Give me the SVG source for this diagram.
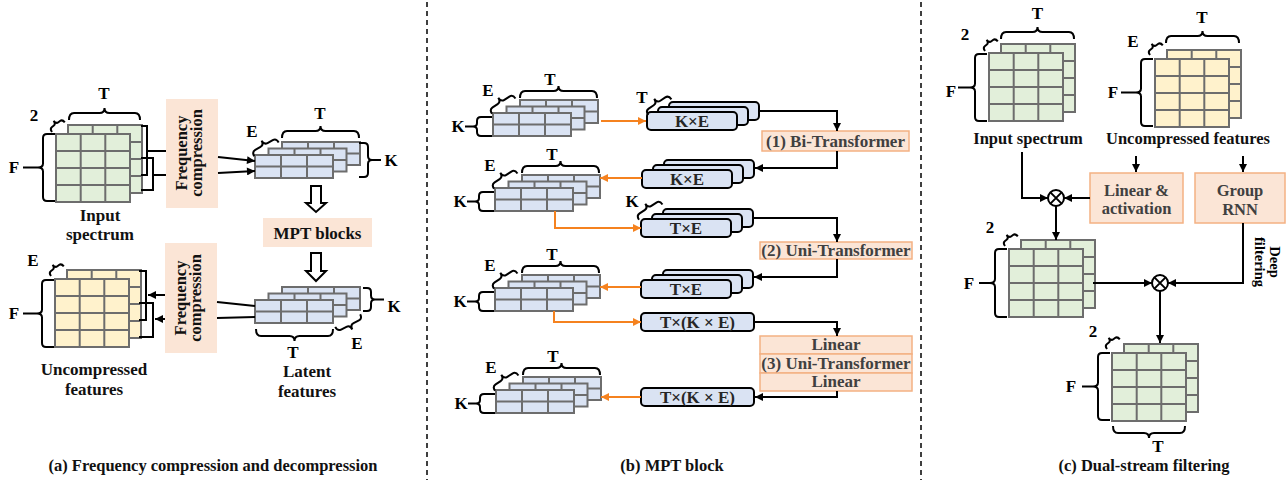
<svg xmlns="http://www.w3.org/2000/svg" xmlns:xlink="http://www.w3.org/1999/xlink" width="1288" height="480" viewBox="0 0 1288 480">
<style>
text{font-family:"Liberation Serif","Times New Roman",serif;font-weight:bold;}
.lbl{font-size:17px;fill:#000;text-anchor:middle}
.t16{font-size:17px;text-anchor:middle;fill:#111}
.t165{font-size:16.5px;text-anchor:middle;fill:#111}
.fc{font-size:16.5px;text-anchor:middle;fill:#111}
.cap{font-size:16.5px;text-anchor:middle;fill:#111}
.btx{font-size:17px;text-anchor:middle;fill:#404040}
.ctx{font-size:16.5px;text-anchor:middle;fill:#404040}
.blk{font-size:17px;text-anchor:middle;fill:#262626}
.gridc{stroke:#6d6d6d;stroke-width:2}
.br{fill:none;stroke:#000;stroke-width:2}
.ln{fill:none;stroke:#000;stroke-width:2}
.or{fill:none;stroke:#f5821f;stroke-width:2}
.peach{fill:#fbe5d6}
.peachS{fill:#fbe5d6;stroke:#f4b183;stroke-width:1.5}
.blkr{fill:#dae3f3;stroke:#000;stroke-width:2}
.dash{stroke:#000;stroke-width:1.5;stroke-dasharray:5,4}
</style>
<defs>
<marker id="ah" viewBox="0 0 10 10" refX="10" refY="5" markerWidth="9" markerHeight="8" markerUnits="userSpaceOnUse" orient="auto"><path d="M0,0L10,5L0,10z" fill="#000"/></marker>
<marker id="aho" viewBox="0 0 10 10" refX="10" refY="5" markerWidth="9" markerHeight="8" markerUnits="userSpaceOnUse" orient="auto"><path d="M0,0L10,5L0,10z" fill="#f5821f"/></marker>
<g id="g34" class="gridc"><rect width="74" height="68"/><path d="M24.7,0V68M49.3,0V68M0,17H74M0,34H74M0,51H74" fill="none"/></g>
<g id="G34"><use xlink:href="#g34" x="12" y="-9"/><use xlink:href="#g34"/></g>
<g id="g32" class="gridc"><rect width="78" height="23"/><path d="M26,0V23M52,0V23M0,11.5H78" fill="none"/></g>
<g id="G32"><use xlink:href="#g32" x="27" y="-13"/><use xlink:href="#g32" x="13.5" y="-6.5"/><use xlink:href="#g32"/></g>
<rect id="b90" width="90" height="18" rx="4" class="blkr"/>
<g id="S90"><use xlink:href="#b90" x="22" y="-10"/><use xlink:href="#b90" x="11" y="-5"/><use xlink:href="#b90"/></g>
<path id="sb28" class="br" d="M-14,5 Q-14,0 -10,0 H-4 Q0,0 0,-5 Q0,0 4,0 H10 Q14,0 14,5"/>
<path id="sb16" class="br" d="M-8,4 Q-8,0 -5,0 H-3 Q0,0 0,-4 Q0,0 3,0 H5 Q8,0 8,4"/>
<path id="tb77" class="br" d="M0,0 Q0,-7 5,-7 H33.5 Q38.5,-7 38.5,-12 Q38.5,-7 43.5,-7 H72 Q77,-7 77,0"/>
<path id="kb" class="br" d="M0,0 H-11 Q-15,0 -15,4 V6 Q-15,9.5 -19,9.5 Q-15,9.5 -15,13 V15 Q-15,19 -11,19 H0 M-19,9.5 H-27"/>
<g id="otimes"><circle r="8" fill="#fff" stroke="#000" stroke-width="2"/><path d="M-5.6,-5.6L5.6,5.6M-5.6,5.6L5.6,-5.6" stroke="#000" stroke-width="2"/></g>
</defs>

<rect width="1288" height="480" fill="#fff"/>
<line class="dash" x1="427" y1="2" x2="427" y2="480"/>
<line class="dash" x1="921" y1="2" x2="921" y2="480"/>

<!-- ===== Panel (a) ===== -->
<g id="a-input">
<use xlink:href="#G34" x="56" y="134" fill="#e2efda"/>
<path class="br" d="M69,120 Q69,113 74,113 H99.5 Q104.5,113 104.5,108 Q104.5,113 109.5,113 H135 Q140,113 140,120"/>
<text class="lbl" x="104" y="99">T</text>
<use xlink:href="#sb16" transform="translate(56,124) rotate(-37)"/>
<text class="lbl" x="34" y="121">2</text>
<path class="br" d="M55,134 H47 Q43,134 43,138 V163.5 Q43,167.5 38,167.5 Q43,167.5 43,171.5 V197 Q43,201 47,201 H55 M23,167.5 H38"/>
<text class="lbl" x="14" y="173">F</text>
<text class="t16" x="100" y="221">Input</text>
<text class="t16" x="100" y="240">spectrum</text>
</g>
<g id="a-fc1">
<rect class="peach" x="166" y="99" width="52" height="109"/>
<text class="fc" transform="translate(192,153) rotate(-90)"><tspan x="0" y="-5">Frequency</tspan><tspan x="0" y="10">compression</tspan></text>
</g>
<g id="a-latent1">
<use xlink:href="#G32" x="255" y="155" fill="#dae3f3"/>
<use xlink:href="#tb77" transform="translate(282,138)"/>
<text class="lbl" x="320" y="119">T</text>
<use xlink:href="#sb28" transform="translate(264,145) rotate(-29)"/>
<text class="lbl" x="252" y="137">E</text>
<path class="br" d="M359,143 H364 Q368,143 368,147 V156 Q368,160 372,160 Q368,160 368,164 V173 Q368,177 364,177 H359 M372,160 H381"/>
<text class="lbl" x="391" y="166">K</text>
</g>
<g id="a-mpt">
<rect class="peach" x="263" y="218" width="109" height="29"/>
<text class="t16" x="317.5" y="239" fill="#222">MPT blocks</text>
</g>
<g id="a-latent2">
<use xlink:href="#G32" x="255" y="300" fill="#dae3f3"/>
<path class="br" d="M363,288 H367 Q371,288 371,292 V295.5 Q371,299.5 375,299.5 Q371,299.5 371,303.5 V307 Q371,311 367,311 H363 M375,299.5 H384"/>
<text class="lbl" x="394" y="312">K</text>
<use xlink:href="#sb28" transform="translate(350,325) rotate(153)"/>
<text class="lbl" x="357" y="349">E</text>
<path class="br" d="M256,329 Q256,336 261,336 H289.5 Q294.5,336 294.5,341 Q294.5,336 299.5,336 H328 Q333,336 333,329"/>
<text class="lbl" x="293" y="358">T</text>
<text class="t16" x="307" y="377">Latent</text>
<text class="t16" x="307" y="397">features</text>
</g>
<g id="a-fc2">
<rect class="peach" x="165" y="243" width="52" height="110"/>
<text class="fc" transform="translate(191,298) rotate(-90)"><tspan x="0" y="-5">Frequency</tspan><tspan x="0" y="10">compression</tspan></text>
</g>
<g id="a-uncomp">
<use xlink:href="#G34" x="55" y="279" fill="#fff2cc"/>
<use xlink:href="#sb16" transform="translate(55,268) rotate(-37)"/>
<text class="lbl" x="33" y="266">E</text>
<path class="br" d="M54,280 H46 Q42,280 42,284 V309.5 Q42,313.5 37,313.5 Q42,313.5 42,317.5 V343 Q42,347 46,347 H54 M23,313.5 H37"/>
<text class="lbl" x="14" y="319">F</text>
<text class="t16" x="94" y="375">Uncompressed</text>
<text class="t16" x="94" y="395">features</text>
</g>
<g id="a-arrows">
<path class="ln" d="M311,186 H321 V203 H326 L316,212 L306,203 H311 Z" fill="#fff"/>
<path class="ln" d="M311,253 H321 V271 H326 L316,281 L306,271 H311 Z" fill="#fff"/>
</g>

<!-- ===== Panel (b) ===== -->
<g id="b-grid1">
<use xlink:href="#G32" x="493" y="113" fill="#dae3f3"/>
<use xlink:href="#tb77" transform="translate(520,98)"/>
<text class="lbl" x="550" y="85">T</text>
<use xlink:href="#sb28" transform="translate(501,102) rotate(-33)"/>
<text class="lbl" x="488" y="96">E</text>
<use xlink:href="#kb" transform="translate(492,117)"/>
<text class="lbl" x="458" y="132">K</text>
</g>
<g id="b-grid2">
<use xlink:href="#G32" x="495" y="188" fill="#dae3f3"/>
<use xlink:href="#tb77" transform="translate(522,173)"/>
<text class="lbl" x="552" y="160">T</text>
<use xlink:href="#sb28" transform="translate(503,177) rotate(-33)"/>
<text class="lbl" x="490" y="171">E</text>
<use xlink:href="#kb" transform="translate(494,192)"/>
<text class="lbl" x="460" y="207">K</text>
</g>
<g id="b-grid3">
<use xlink:href="#G32" x="495" y="288" fill="#dae3f3"/>
<use xlink:href="#tb77" transform="translate(522,273)"/>
<text class="lbl" x="552" y="260">T</text>
<use xlink:href="#sb28" transform="translate(503,277) rotate(-33)"/>
<text class="lbl" x="490" y="271">E</text>
<use xlink:href="#kb" transform="translate(494,292)"/>
<text class="lbl" x="460" y="307">K</text>
</g>
<g id="b-grid4">
<use xlink:href="#G32" x="496" y="390" fill="#dae3f3"/>
<use xlink:href="#tb77" transform="translate(523,375)"/>
<text class="lbl" x="553" y="362">T</text>
<use xlink:href="#sb28" transform="translate(504,379) rotate(-33)"/>
<text class="lbl" x="491" y="373">E</text>
<use xlink:href="#kb" transform="translate(495,394)"/>
<text class="lbl" x="461" y="409">K</text>
</g>
<g id="b-blk1">
<use xlink:href="#S90" x="647" y="112"/>
<text class="blk" x="692" y="127">K×E</text>
<use xlink:href="#sb28" transform="translate(657,103) rotate(-34)"/>
<text class="lbl" x="642" y="103">T</text>
</g>
<g id="b-blk2">
<use xlink:href="#S90" x="642" y="170"/>
<text class="blk" x="687" y="185">K×E</text>
</g>
<g id="b-blk3">
<use xlink:href="#S90" x="641" y="219"/>
<text class="blk" x="686" y="234">T×E</text>
<use xlink:href="#sb28" transform="translate(648,208) rotate(-33)"/>
<text class="lbl" x="632" y="207">K</text>
</g>
<g id="b-blk4">
<use xlink:href="#S90" x="641" y="280"/>
<text class="blk" x="686" y="295">T×E</text>
</g>
<g id="b-blk5">
<rect class="blkr" x="641" y="313" width="113" height="18" rx="4"/>
<text class="blk" x="697.5" y="328">T×(K × E)</text>
</g>
<g id="b-blk6">
<rect class="blkr" x="641" y="388" width="113" height="18" rx="4"/>
<text class="blk" x="697.5" y="403">T×(K × E)</text>
</g>
<g id="b-box1">
<rect class="peachS" x="762" y="131" width="147" height="20"/>
<text class="btx" x="835.5" y="147">(1) Bi-Transformer</text>
</g>
<g id="b-box2">
<rect class="peachS" x="760" y="242" width="152" height="17"/>
<text class="btx" x="836" y="256">(2) Uni-Transformer</text>
</g>
<g id="b-box3">
<rect class="peachS" x="760" y="336" width="152" height="18"/>
<rect class="peachS" x="760" y="354" width="152" height="19"/>
<rect class="peachS" x="760" y="373" width="152" height="18"/>
<text class="btx" x="836" y="350">Linear</text>
<text class="btx" x="836" y="369">(3) Uni-Transformer</text>
<text class="btx" x="836" y="387">Linear</text>
</g>

<!-- ===== Panel (c) ===== -->
<g id="c-input">
<use xlink:href="#G34" x="989" y="53" fill="#e2efda"/>
<path class="br" d="M1001,39 Q1001,32 1006,32 H1032.5 Q1037.5,32 1037.5,27 Q1037.5,32 1042.5,32 H1069 Q1074,32 1074,39"/>
<text class="lbl" x="1037.5" y="19">T</text>
<use xlink:href="#sb16" transform="translate(989,43) rotate(-37)"/>
<text class="lbl" x="965" y="40">2</text>
<path class="br" d="M987,54 H979 Q975,54 975,58 V83.5 Q975,87.5 970,87.5 Q975,87.5 975,91.5 V117 Q975,121 979,121 H987 M958,87.5 H970"/>
<text class="lbl" x="951" y="97">F</text>
<text class="t165" x="1028" y="144">Input spectrum</text>
</g>
<g id="c-uncomp">
<use xlink:href="#G34" x="1155" y="59" fill="#fff2cc"/>
<path class="br" d="M1166,43 Q1166,36 1171,36 H1197.5 Q1202.5,36 1202.5,31 Q1202.5,36 1207.5,36 H1234 Q1239,36 1239,43"/>
<text class="lbl" x="1202" y="23">T</text>
<use xlink:href="#sb16" transform="translate(1154,47) rotate(-37)"/>
<text class="lbl" x="1133" y="47">E</text>
<path class="br" d="M1153,59 H1145 Q1141,59 1141,63 V88.5 Q1141,92.5 1136,92.5 Q1141,92.5 1141,96.5 V122 Q1141,126 1145,126 H1153 M1121,92.5 H1136"/>
<text class="lbl" x="1113" y="98">F</text>
<text class="t165" x="1188" y="144">Uncompressed features</text>
</g>
<g id="c-linear">
<rect class="peachS" x="1090" y="173" width="93" height="50"/>
<text class="ctx" x="1136.5" y="196">Linear &amp;</text>
<text class="ctx" x="1136.5" y="214">activation</text>
</g>
<g id="c-grnn">
<rect class="peachS" x="1195" y="173" width="90" height="50"/>
<text class="ctx" x="1240" y="196">Group</text>
<text class="ctx" x="1240" y="215">RNN</text>
</g>
<g id="c-mul1"><use xlink:href="#otimes" x="1056" y="198"/></g>
<g id="c-mul2"><use xlink:href="#otimes" x="1160" y="283"/></g>
<g id="c-mid">
<use xlink:href="#G34" x="1009" y="249" fill="#e2efda"/>
<use xlink:href="#sb16" transform="translate(1009,238) rotate(-37)"/>
<text class="lbl" x="990" y="233">2</text>
<path class="br" d="M1007,249 H999 Q995,249 995,253 V279 Q995,283 990,283 Q995,283 995,287 V313 Q995,317 999,317 H1007 M979,283 H990"/>
<text class="lbl" x="969" y="289">F</text>
</g>
<g id="c-out">
<use xlink:href="#G34" x="1112" y="353" fill="#e2efda"/>
<use xlink:href="#sb16" transform="translate(1111,341) rotate(-37)"/>
<text class="lbl" x="1093" y="337">2</text>
<path class="br" d="M1110,353 H1102 Q1098,353 1098,357 V382.5 Q1098,386.5 1093,386.5 Q1098,386.5 1098,390.5 V416 Q1098,420 1102,420 H1110 M1082,386.5 H1093"/>
<text class="lbl" x="1071" y="392">F</text>
<path class="br" d="M1113,426 Q1113,433 1118,433 H1144 Q1149,433 1149,438 Q1149,433 1154,433 H1180 Q1185,433 1185,426"/>
<text class="lbl" x="1158" y="452">T</text>
</g>
<g id="c-deep">
<text class="lbl" transform="translate(1270,262) rotate(90)" style="font-size:14.5px"><tspan x="0" y="0">Deep</tspan><tspan x="0" y="15">filtering</tspan></text>
</g>

<!-- ===== Connectors ===== -->
<g id="connectors">
<path class="br" d="M141,126 H147 V175 H141 M147,151 H166"/>
<path class="br" d="M141,158 H153 V190 H141 M153,175 H166"/>
<path class="ln" d="M218,157 L255,161" marker-end="url(#ah)"/>
<path class="ln" d="M218,173 L255,171" marker-end="url(#ah)"/>
<path class="ln" d="M217,302 L255,306"/>
<path class="ln" d="M217,318 L255,317"/>
<path class="br" d="M139,271 H146 V320 H139"/>
<path class="br" d="M139,303 H153 V337 H139"/>
<path class="ln" d="M165,295 H148" marker-end="url(#ah)"/>
<path class="ln" d="M165,319 H155" marker-end="url(#ah)"/>

<path class="ln" d="M759,111 H837 V131" marker-end="url(#ah)"/>
<path class="ln" d="M837,151 V168 H755" marker-end="url(#ah)"/>
<path class="ln" d="M753,218 H837 V242" marker-end="url(#ah)"/>
<path class="ln" d="M837,259 V277 H754" marker-end="url(#ah)"/>
<path class="ln" d="M754,322 H837 V336" marker-end="url(#ah)"/>
<path class="ln" d="M837,391 V397 H755" marker-end="url(#ah)"/>
<path class="or" d="M601,121 H646" marker-end="url(#aho)"/>
<path class="or" d="M642,178 H600" marker-end="url(#aho)"/>
<path class="or" d="M555,211 V228 H641" marker-end="url(#aho)"/>
<path class="or" d="M641,287 H600" marker-end="url(#aho)"/>
<path class="or" d="M554,311 V322 H641" marker-end="url(#aho)"/>
<path class="or" d="M641,397 H601" marker-end="url(#aho)"/>

<path class="ln" d="M1022,152 V198 H1048" marker-end="url(#ah)"/>
<path class="ln" d="M1090,198 H1064" marker-end="url(#ah)"/>
<path class="ln" d="M1136,156 V172" marker-end="url(#ah)"/>
<path class="ln" d="M1243,156 V172" marker-end="url(#ah)"/>
<path class="ln" d="M1056,206 V240" marker-end="url(#ah)"/>
<path class="ln" d="M1093,283 H1152" marker-end="url(#ah)"/>
<path class="ln" d="M1243,223 V283 H1168" marker-end="url(#ah)"/>
<path class="ln" d="M1160,291 V343" marker-end="url(#ah)"/>
</g>

<g id="captions">
<text class="cap" x="213" y="471">(a) Frequency compression and decompression</text>
<text class="cap" x="672" y="471">(b) MPT block</text>
<text class="cap" x="1144" y="471">(c) Dual-stream filtering</text>
</g>
</svg>
